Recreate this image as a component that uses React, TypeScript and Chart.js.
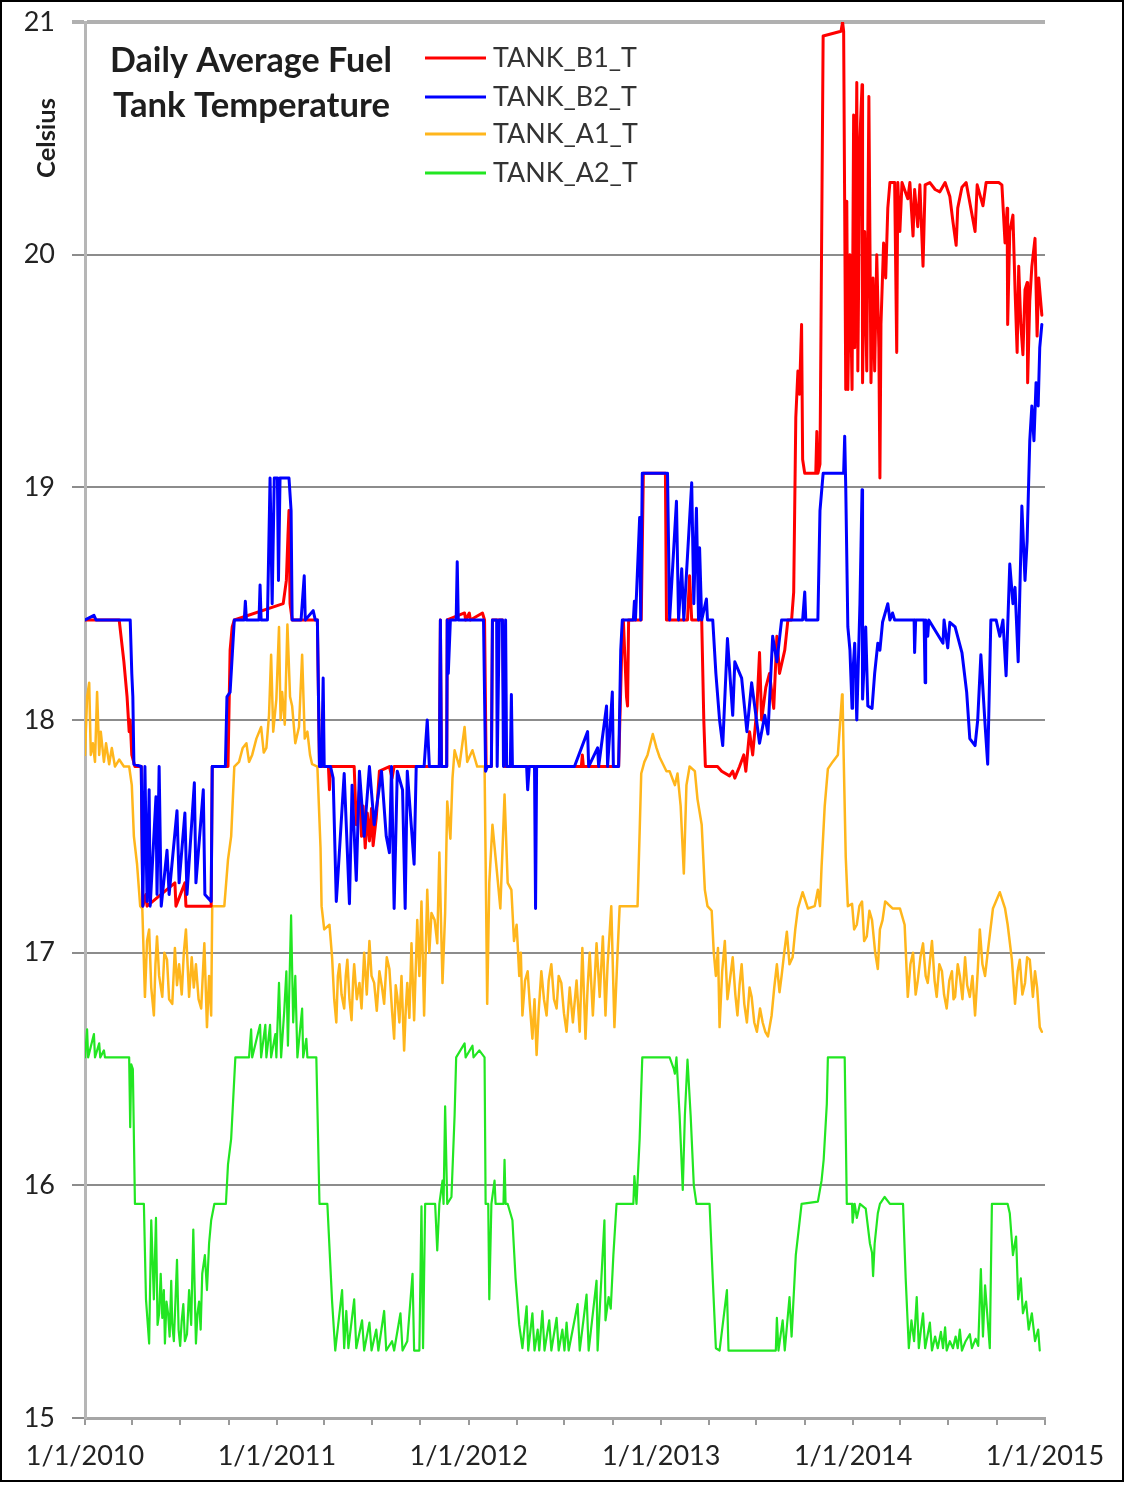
import React, { useEffect, useRef } from 'react';
import { Chart, registerables } from 'chart.js';

Chart.register(...registerables);

// x = days since 1/1/2010, y = degrees Celsius
const TANK_B1_T: [number, number][] = [
  [0,18.43],[65,18.43],[74,18.25],[80,18.1],[84,17.95],[86,18.0],[89,17.85],[95,17.8],[107,17.8],[110,17.2],[116,17.25],[118,17.2],[171,17.3],[173,17.2],[190,17.3],[192,17.2],[240,17.2],[242,17.8],[272,17.8],[276,18.3],[280,18.4],[284,18.43],[377,18.5],[383,18.6],[386,18.79],[388,18.9],[390,18.5],[394,18.43],[442,18.43],[446,17.8],[463,17.8],[465,17.7],[467,17.8],[512,17.8],[516,17.55],[522,17.7],[526,17.5],[529,17.63],[533,17.45],[537,17.6],[541,17.48],[545,17.62],[548,17.46],[554,17.58],[560,17.78],[579,17.8],[584,17.75],[588,17.8],[674,17.8],[676,18.43],[678,17.8],[688,17.8],[689,18.43],[722,18.46],[724,18.43],[731,18.46],[733,18.43],[756,18.46],[760,18.43],[763,17.8],[773,17.8],[775,18.43],[794,18.43],[798,17.8],[944,17.8],[946,17.85],[948,17.8],[1015,17.8],[1021,18.3],[1024,18.43],[1030,18.1],[1032,18.06],[1034,18.43],[1058,18.43],[1062,19.06],[1104,19.06],[1106,18.43],[1146,18.43],[1150,18.62],[1154,18.43],[1173,18.43],[1177,18.0],[1180,17.8],[1203,17.8],[1211,17.78],[1226,17.76],[1232,17.78],[1236,17.75],[1245,17.8],[1253,17.85],[1257,17.78],[1264,17.95],[1270,17.85],[1278,18.05],[1283,18.29],[1287,18.0],[1295,18.14],[1302,18.2],[1310,18.05],[1316,18.36],[1321,18.2],[1331,18.3],[1337,18.43],[1344,18.43],[1348,18.55],[1352,19.3],[1356,19.5],[1359,19.4],[1363,19.7],[1365,19.12],[1369,19.06],[1390,19.06],[1392,19.24],[1394,19.06],[1398,19.1],[1404,20.94],[1438,20.96],[1441,21.0],[1443,20.96],[1447,19.42],[1449,20.23],[1451,19.42],[1455,20.0],[1459,19.42],[1462,20.6],[1464,19.6],[1468,20.74],[1470,19.5],[1474,20.5],[1478,20.73],[1479,19.45],[1483,20.1],[1487,19.5],[1491,20.68],[1495,19.45],[1499,19.9],[1502,19.5],[1506,20.0],[1510,19.6],[1512,19.04],[1514,19.7],[1519,20.05],[1523,19.9],[1527,20.2],[1531,20.31],[1540,20.31],[1544,19.58],[1546,20.31],[1550,20.1],[1554,20.31],[1565,20.24],[1569,20.31],[1575,20.08],[1578,20.28],[1584,20.12],[1588,20.3],[1594,19.95],[1598,20.3],[1607,20.31],[1617,20.28],[1626,20.27],[1636,20.31],[1645,20.25],[1651,20.14],[1657,20.04],[1660,20.2],[1668,20.29],[1676,20.31],[1693,20.1],[1697,20.3],[1708,20.21],[1714,20.31],[1738,20.31],[1744,20.3],[1750,20.05],[1754,20.2],[1755,19.7],[1759,20.1],[1765,20.17],[1769,19.85],[1773,19.58],[1776,19.95],[1780,19.7],[1784,19.57],[1788,19.85],[1792,19.88],[1793,19.45],[1797,19.8],[1801,19.95],[1807,20.07],[1811,19.65],[1814,19.9],[1820,19.74],
];

const TANK_B2_T: [number, number][] = [
  [0,18.43],[17,18.45],[21,18.43],[84,18.43],[86,18.43],[89,18.2],[91,18.1],[93,17.81],[107,17.8],[110,17.2],[114,17.8],[118,17.22],[122,17.7],[124,17.2],[135,17.67],[137,17.25],[141,17.8],[145,17.2],[156,17.44],[160,17.25],[175,17.61],[179,17.3],[190,17.6],[194,17.25],[208,17.73],[211,17.3],[225,17.7],[228,17.25],[240,17.22],[242,17.8],[267,17.8],[270,18.1],[276,18.12],[284,18.43],[303,18.43],[305,18.51],[307,18.43],[331,18.43],[333,18.58],[335,18.43],[347,18.43],[352,19.04],[356,18.5],[360,19.04],[366,19.04],[368,18.6],[371,19.04],[388,19.04],[392,18.9],[394,18.43],[411,18.43],[417,18.62],[419,18.43],[434,18.47],[438,18.43],[442,18.43],[446,17.8],[450,17.8],[453,18.18],[455,17.8],[467,17.8],[472,17.75],[478,17.22],[480,17.29],[493,17.77],[503,17.21],[508,17.72],[516,17.31],[522,17.78],[531,17.5],[541,17.8],[550,17.55],[564,17.78],[573,17.5],[579,17.43],[583,17.8],[588,17.19],[594,17.78],[604,17.7],[609,17.19],[613,17.78],[626,17.38],[630,17.8],[645,17.8],[651,18.0],[655,17.8],[674,17.8],[676,18.43],[678,17.8],[688,17.8],[689,18.43],[691,18.2],[695,18.43],[706,18.43],[708,18.68],[710,18.43],[758,18.43],[762,17.78],[765,17.8],[773,17.8],[775,18.43],[783,18.43],[784,17.8],[788,18.43],[794,18.43],[796,17.8],[800,18.43],[802,17.8],[809,17.8],[811,18.11],[813,17.8],[840,17.8],[842,17.7],[845,17.8],[855,17.8],[857,17.19],[859,17.8],[931,17.8],[956,17.95],[958,17.8],[975,17.88],[977,17.8],[992,18.06],[994,17.8],[1003,18.12],[1005,17.8],[1015,17.8],[1019,18.3],[1022,18.43],[1043,18.43],[1045,18.51],[1047,18.43],[1055,18.87],[1057,18.43],[1060,19.06],[1108,19.06],[1112,18.43],[1125,18.94],[1129,18.43],[1135,18.65],[1139,18.43],[1154,19.02],[1158,18.5],[1163,18.91],[1167,18.43],[1169,18.74],[1173,18.43],[1182,18.52],[1184,18.43],[1194,18.43],[1200,18.2],[1207,18.0],[1213,17.89],[1222,18.35],[1232,18.02],[1236,18.25],[1249,18.18],[1259,17.95],[1268,18.16],[1283,17.9],[1293,18.02],[1299,17.94],[1308,18.36],[1316,18.25],[1325,18.43],[1365,18.43],[1369,18.55],[1371,18.43],[1394,18.43],[1398,18.9],[1404,19.06],[1443,19.06],[1445,19.22],[1447,19.0],[1451,18.4],[1455,18.3],[1459,18.05],[1460,18.18],[1464,18.33],[1468,18.0],[1474,18.5],[1478,18.99],[1479,18.09],[1485,18.4],[1489,18.06],[1497,18.05],[1502,18.2],[1508,18.33],[1512,18.3],[1517,18.42],[1527,18.5],[1531,18.43],[1536,18.46],[1540,18.43],[1577,18.43],[1578,18.29],[1580,18.43],[1596,18.43],[1598,18.16],[1599,18.43],[1603,18.36],[1605,18.43],[1632,18.33],[1634,18.43],[1641,18.31],[1645,18.42],[1655,18.4],[1668,18.29],[1677,18.12],[1683,17.92],[1693,17.89],[1698,18.0],[1704,18.28],[1712,17.98],[1717,17.81],[1723,18.43],[1733,18.43],[1740,18.36],[1746,18.43],[1752,18.19],[1755,18.4],[1759,18.67],[1765,18.5],[1769,18.57],[1775,18.25],[1782,18.92],[1788,18.6],[1792,18.77],[1797,19.2],[1801,19.35],[1805,19.2],[1809,19.45],[1813,19.35],[1816,19.6],[1820,19.7],
];

const TANK_A1_T: [number, number][] = [
  [0,17.85],[4,18.1],[8,18.16],[11,17.85],[15,17.9],[19,17.82],[23,18.12],[27,17.85],[30,17.95],[36,17.82],[40,17.9],[46,17.81],[51,17.88],[57,17.8],[65,17.83],[74,17.8],[84,17.8],[89,17.72],[93,17.5],[99,17.38],[105,17.2],[109,17.19],[114,16.81],[118,17.05],[122,17.1],[126,16.85],[131,16.73],[134,16.95],[137,17.07],[141,16.9],[147,16.81],[151,17.0],[156,16.97],[160,16.8],[166,16.78],[171,17.02],[175,16.86],[179,16.95],[184,16.82],[188,17.0],[192,17.1],[198,16.81],[203,16.98],[207,16.85],[211,16.95],[216,16.8],[221,16.76],[227,17.04],[232,16.68],[236,16.9],[240,16.73],[242,17.2],[265,17.2],[272,17.4],[278,17.5],[284,17.8],[293,17.82],[300,17.88],[307,17.9],[312,17.82],[318,17.85],[326,17.92],[335,17.97],[340,17.86],[345,17.88],[350,18.02],[354,18.28],[358,17.95],[364,18.09],[369,18.4],[372,18.0],[375,18.12],[380,17.98],[385,18.41],[390,18.1],[394,18.06],[400,17.9],[407,17.97],[413,18.28],[418,17.92],[423,17.95],[428,17.85],[432,17.81],[442,17.8],[448,17.45],[450,17.2],[455,17.1],[465,17.12],[470,16.98],[474,16.8],[478,16.7],[481,16.9],[484,16.95],[488,16.82],[493,16.76],[496,16.9],[499,16.97],[503,16.8],[507,16.71],[510,16.88],[512,16.95],[517,16.8],[522,16.87],[526,16.76],[531,17.0],[536,16.82],[541,17.05],[545,16.9],[550,16.87],[555,16.75],[560,16.92],[565,16.85],[569,16.78],[574,16.98],[579,16.93],[584,16.75],[588,16.63],[591,16.86],[594,16.81],[598,16.7],[602,16.9],[607,16.58],[610,16.75],[613,16.87],[617,16.72],[621,17.04],[626,16.71],[632,17.14],[636,16.9],[640,17.22],[645,16.73],[651,17.27],[655,17.0],[659,17.17],[665,17.14],[670,17.04],[674,17.43],[680,16.87],[685,17.17],[689,17.65],[695,17.49],[699,17.75],[703,17.87],[712,17.8],[722,17.97],[727,17.82],[737,17.87],[746,17.8],[760,17.8],[763,17.2],[765,16.78],[769,17.3],[775,17.55],[783,17.36],[790,17.19],[798,17.68],[804,17.3],[811,17.27],[816,17.05],[821,17.12],[826,16.9],[829,17.0],[832,16.73],[837,16.88],[842,16.92],[846,16.78],[851,16.63],[855,16.8],[859,16.56],[863,16.75],[868,16.92],[873,16.8],[878,16.73],[882,16.88],[887,16.95],[892,16.8],[897,16.76],[901,16.9],[906,16.87],[911,16.74],[916,16.66],[922,16.85],[928,16.7],[935,16.88],[941,16.66],[946,17.02],[952,16.63],[956,16.85],[960,17.0],[966,16.73],[973,17.04],[979,16.81],[985,17.07],[990,16.73],[994,16.95],[998,17.09],[1001,17.2],[1007,16.68],[1013,17.0],[1017,17.2],[1051,17.2],[1055,17.52],[1058,17.77],[1064,17.82],[1070,17.85],[1080,17.94],[1087,17.88],[1093,17.84],[1106,17.78],[1112,17.78],[1122,17.72],[1127,17.77],[1133,17.63],[1139,17.34],[1144,17.72],[1150,17.8],[1160,17.78],[1165,17.66],[1173,17.55],[1179,17.27],[1184,17.2],[1192,17.18],[1196,17.0],[1200,16.9],[1204,17.02],[1207,16.68],[1212,16.92],[1217,17.05],[1222,16.8],[1226,16.87],[1232,16.98],[1237,16.82],[1241,16.73],[1245,16.86],[1249,16.95],[1254,16.78],[1259,16.7],[1264,16.85],[1268,16.81],[1273,16.7],[1278,16.66],[1284,16.76],[1289,16.7],[1294,16.66],[1299,16.64],[1306,16.73],[1311,16.85],[1316,16.95],[1321,16.83],[1325,16.9],[1330,17.0],[1335,17.09],[1340,16.95],[1346,16.98],[1351,17.1],[1356,17.19],[1365,17.26],[1375,17.19],[1388,17.2],[1394,17.27],[1398,17.2],[1401,17.37],[1407,17.63],[1413,17.79],[1422,17.82],[1432,17.85],[1440,18.11],[1441,18.09],[1443,17.85],[1447,17.41],[1451,17.2],[1459,17.21],[1463,17.1],[1468,17.12],[1473,17.2],[1478,17.22],[1482,17.05],[1487,17.07],[1492,17.18],[1497,17.14],[1503,17.0],[1508,16.93],[1512,17.1],[1517,17.14],[1522,17.22],[1527,17.21],[1536,17.19],[1550,17.19],[1559,17.12],[1565,16.81],[1570,16.95],[1575,17.0],[1580,16.82],[1584,16.88],[1589,16.98],[1594,17.04],[1599,16.9],[1603,16.87],[1607,16.96],[1611,17.05],[1616,16.88],[1620,16.81],[1625,16.95],[1630,16.92],[1634,16.82],[1639,16.76],[1644,16.88],[1649,16.92],[1652,16.8],[1655,16.81],[1660,16.95],[1664,16.9],[1669,16.8],[1674,16.98],[1678,16.86],[1683,16.81],[1688,16.9],[1693,16.73],[1698,16.92],[1702,17.1],[1707,16.95],[1712,16.9],[1717,17.0],[1727,17.19],[1740,17.26],[1750,17.19],[1755,17.12],[1763,16.97],[1769,16.78],[1774,16.92],[1778,16.97],[1783,16.82],[1788,16.87],[1792,16.98],[1797,16.97],[1803,16.81],[1807,16.92],[1811,16.85],[1816,16.68],[1820,16.66],
];

const TANK_A2_T: [number, number][] = [
  [0,16.55],[4,16.67],[6,16.55],[17,16.65],[19,16.55],[27,16.61],[29,16.55],[36,16.58],[38,16.55],[84,16.55],[86,16.25],[88,16.52],[91,16.5],[95,15.92],[112,15.92],[116,15.51],[122,15.32],[126,15.85],[131,15.51],[135,15.86],[138,15.4],[141,15.45],[144,15.62],[147,15.43],[150,15.55],[152,15.32],[155,15.5],[158,15.45],[161,15.35],[164,15.59],[166,15.4],[169,15.33],[172,15.5],[175,15.68],[178,15.38],[181,15.31],[184,15.42],[187,15.49],[190,15.33],[194,15.36],[198,15.55],[202,15.4],[206,15.81],[211,15.32],[214,15.45],[217,15.5],[220,15.38],[223,15.62],[228,15.7],[232,15.55],[236,15.75],[240,15.85],[246,15.92],[268,15.92],[272,16.09],[278,16.2],[286,16.55],[312,16.55],[316,16.67],[318,16.55],[333,16.69],[335,16.55],[343,16.69],[345,16.55],[352,16.69],[354,16.55],[362,16.65],[364,16.55],[369,16.87],[373,16.55],[379,16.75],[383,16.92],[386,16.6],[392,17.16],[396,16.7],[400,16.9],[404,16.55],[413,16.76],[415,16.55],[421,16.63],[423,16.55],[440,16.55],[446,15.92],[461,15.92],[470,15.5],[476,15.29],[489,15.55],[493,15.3],[497,15.46],[501,15.3],[512,15.51],[516,15.3],[527,15.42],[531,15.29],[541,15.41],[545,15.29],[554,15.38],[558,15.29],[569,15.46],[573,15.29],[584,15.33],[588,15.29],[600,15.45],[604,15.29],[613,15.33],[623,15.62],[626,15.29],[636,15.29],[640,15.91],[643,15.3],[647,15.92],[666,15.92],[670,15.72],[674,15.92],[680,16.02],[682,15.92],[685,16.34],[689,15.92],[697,15.95],[703,16.3],[706,16.55],[722,16.61],[724,16.55],[737,16.6],[739,16.55],[750,16.58],[760,16.55],[762,15.92],[767,15.92],[769,15.51],[773,15.92],[779,16.02],[781,15.92],[796,15.92],[798,16.11],[800,15.92],[804,15.92],[813,15.85],[819,15.6],[826,15.4],[832,15.3],[840,15.48],[843,15.29],[851,15.45],[855,15.29],[861,15.38],[864,15.29],[870,15.46],[874,15.29],[883,15.42],[887,15.29],[897,15.43],[901,15.29],[908,15.38],[912,15.29],[916,15.41],[920,15.29],[937,15.49],[941,15.29],[954,15.53],[958,15.29],[973,15.59],[975,15.29],[988,15.85],[990,15.42],[996,15.52],[1000,15.47],[1005,15.7],[1011,15.92],[1043,15.92],[1045,16.04],[1049,15.92],[1055,16.2],[1060,16.55],[1112,16.55],[1120,16.5],[1122,16.48],[1125,16.55],[1131,16.3],[1137,15.98],[1141,16.3],[1146,16.54],[1152,16.3],[1158,16.0],[1163,15.92],[1188,15.92],[1194,15.6],[1200,15.3],[1207,15.29],[1221,15.55],[1224,15.29],[1314,15.29],[1316,15.43],[1319,15.29],[1327,15.42],[1331,15.29],[1340,15.52],[1344,15.35],[1352,15.7],[1357,15.8],[1363,15.92],[1394,15.93],[1401,16.02],[1405,16.11],[1411,16.35],[1413,16.55],[1445,16.55],[1449,15.92],[1459,15.92],[1460,15.84],[1464,15.92],[1468,15.86],[1474,15.92],[1485,15.9],[1493,15.75],[1497,15.71],[1499,15.61],[1502,15.75],[1508,15.88],[1512,15.92],[1521,15.95],[1531,15.92],[1556,15.92],[1561,15.6],[1567,15.3],[1572,15.42],[1577,15.33],[1582,15.52],[1586,15.3],[1590,15.38],[1594,15.45],[1598,15.3],[1603,15.36],[1607,15.41],[1611,15.29],[1617,15.35],[1622,15.3],[1628,15.37],[1632,15.3],[1636,15.39],[1639,15.29],[1645,15.33],[1651,15.3],[1656,15.35],[1660,15.3],[1664,15.38],[1668,15.29],[1675,15.33],[1683,15.36],[1687,15.3],[1694,15.34],[1699,15.31],[1704,15.64],[1708,15.35],[1712,15.57],[1717,15.42],[1721,15.3],[1725,15.92],[1755,15.92],[1759,15.88],[1765,15.7],[1771,15.78],[1775,15.51],[1780,15.6],[1784,15.45],[1790,15.5],[1795,15.38],[1801,15.45],[1807,15.33],[1813,15.38],[1816,15.29],
];

const SERIES_NAMES = ['TANK_B1_T', 'TANK_B2_T', 'TANK_A1_T', 'TANK_A2_T'];
const SERIES_DATA = [TANK_B1_T, TANK_B2_T, TANK_A1_T, TANK_A2_T];
const SERIES_COLORS = ['#ff0000', '#0000ff', '#ffb61c', '#22e622'];
const SERIES_WIDTHS = [3, 3, 2.5, 2.2];
const SERIES_ORDER = [1, 0, 2, 3];

// quarterly tick marks (days since 1/1/2010), labels only at year starts
const X_TICKS = [0, 90, 181, 273, 365, 455, 546, 638, 730, 821, 912, 1004, 1096, 1186, 1277, 1369, 1461, 1551, 1642, 1734, 1826];
const YEAR_TICKS = [0, 365, 730, 1096, 1461, 1826];
const YEAR_LABELS = ['1/1/2010', '1/1/2011', '1/1/2012', '1/1/2013', '1/1/2014', '1/1/2015'];
const X_MIN = 0;
const X_MAX = 1826;
const Y_MIN = 15;
const Y_MAX = 21;

const TITLE_LINES = ['Daily Average Fuel', 'Tank Temperature'];
const Y_TITLE = 'Celsius';

const FAMILY = 'Lato, "Open Sans", sans-serif';

function fitFont(ctx: CanvasRenderingContext2D, text: string, width: number, weight: string) {
  ctx.font = `${weight} 100px ${FAMILY}`;
  const w = ctx.measureText(text).width;
  const size = (100 * width) / w;
  ctx.font = `${weight} ${size}px ${FAMILY}`;
  return size;
}

const decorPlugin = {
  id: 'decor',
  beforeDraw(chart: any) {
    const { ctx, width, height } = chart;
    ctx.save();
    ctx.fillStyle = '#ffffff';
    ctx.fillRect(0, 0, width, height);
    ctx.restore();
  },
  afterDraw(chart: any) {
    const ctx: CanvasRenderingContext2D = chart.ctx;
    ctx.save();
    // title
    ctx.fillStyle = '#1e1e1e';
    ctx.textAlign = 'left';
    ctx.textBaseline = 'alphabetic';
    fitFont(ctx, TITLE_LINES[0], 282, 'bold');
    ctx.fillText(TITLE_LINES[0], 110, 72);
    fitFont(ctx, TITLE_LINES[1], 277, 'bold');
    ctx.fillText(TITLE_LINES[1], 113, 117);

    // legend
    const rowsY = [58, 97, 134, 173];
    SERIES_NAMES.forEach((name, i) => {
      const y = rowsY[i];
      ctx.strokeStyle = SERIES_COLORS[i];
      ctx.lineWidth = 3;
      ctx.beginPath();
      ctx.moveTo(425, y);
      ctx.lineTo(486, y);
      ctx.stroke();
      fitFont(ctx, 'TANK_B1_T', 144, 'normal');
      ctx.fillStyle = '#333333';
      ctx.fillText(name, 493, y + 9);
    });

    // y title
    ctx.translate(55, 138);
    ctx.rotate(-Math.PI / 2);
    ctx.textAlign = 'center';
    ctx.fillStyle = '#1e1e1e';
    fitFont(ctx, Y_TITLE, 80, 'bold');
    ctx.fillText(Y_TITLE, 0, 0);
    ctx.restore();

    // frame
    ctx.save();
    ctx.strokeStyle = '#000000';
    ctx.lineWidth = 2;
    ctx.strokeRect(1, 1, 1122, 1480);
    ctx.restore();
  },
};

export default function App() {
  const canvasRef = useRef<HTMLCanvasElement | null>(null);

  useEffect(() => {
    const canvas = canvasRef.current;
    if (!canvas) return;
    const tickFont = { family: FAMILY, size: 27 };
    const chart = new Chart(canvas, {
      type: 'line',
      data: {
        datasets: SERIES_NAMES.map((name, i) => ({
          label: name,
          data: SERIES_DATA[i].map(([x, y]) => ({ x, y })),
          borderColor: SERIES_COLORS[i],
          backgroundColor: SERIES_COLORS[i],
          borderWidth: SERIES_WIDTHS[i],
          pointRadius: 0,
          tension: 0,
          fill: false,
          order: SERIES_ORDER[i],
          borderJoinStyle: 'round' as const,
          borderCapStyle: 'round' as const,
        })),
      },
      options: {
        responsive: false,
        animation: false,
        devicePixelRatio: 1,
        layout: { padding: { top: 22, right: 82, bottom: 0, left: 0 } },
        plugins: {
          legend: { display: false },
          tooltip: { enabled: false },
          title: { display: false },
        },
        scales: {
          x: {
            type: 'linear',
            min: X_MIN,
            max: X_MAX,
            afterBuildTicks: (scale: any) => {
              scale.ticks = X_TICKS.map((v) => ({ value: v }));
            },
            afterFit: (scale: any) => {
              scale.height = 67;
              scale.paddingLeft = 0;
              scale.paddingRight = 0;
            },
            ticks: {
              autoSkip: false,
              maxRotation: 0,
              minRotation: 0,
              padding: 15,
              color: '#222222',
              font: tickFont,
              callback: (v: any) => {
                const idx = YEAR_TICKS.indexOf(Number(v));
                return idx >= 0 ? YEAR_LABELS[idx] : '';
              },
            },
            grid: {
              drawOnChartArea: false,
              drawTicks: true,
              tickLength: 7,
              color: '#9a9a9a',
              lineWidth: 2,
            },
            border: { display: true, color: '#a6a6a6', width: 3 },
          },
          y: {
            type: 'linear',
            min: Y_MIN,
            max: Y_MAX,
            afterFit: (scale: any) => {
              scale.width = 85;
              scale.paddingTop = 0;
              scale.paddingBottom = 0;
            },
            ticks: {
              stepSize: 1,
              padding: 17,
              color: '#222222',
              font: tickFont,
            },
            grid: {
              color: (c: any) => (c.tick && c.tick.value === Y_MAX ? '#b0b0b0' : '#8c8c8c'),
              lineWidth: (c: any) => (c.tick && c.tick.value === Y_MAX ? 4 : 2),
              tickLength: 13,
            },
            border: { display: true, color: '#b6b6b6', width: 3 },
          },
        },
      },
      plugins: [decorPlugin],
    } as any);
    return () => chart.destroy();
  }, []);

  return (
    <div style={{ position: 'absolute', left: 0, top: 0, width: 1127, height: 1485, background: '#fff' }}>
      <canvas ref={canvasRef} width={1127} height={1485} style={{ display: 'block', width: 1127, height: 1485 }} />
    </div>
  );
}
